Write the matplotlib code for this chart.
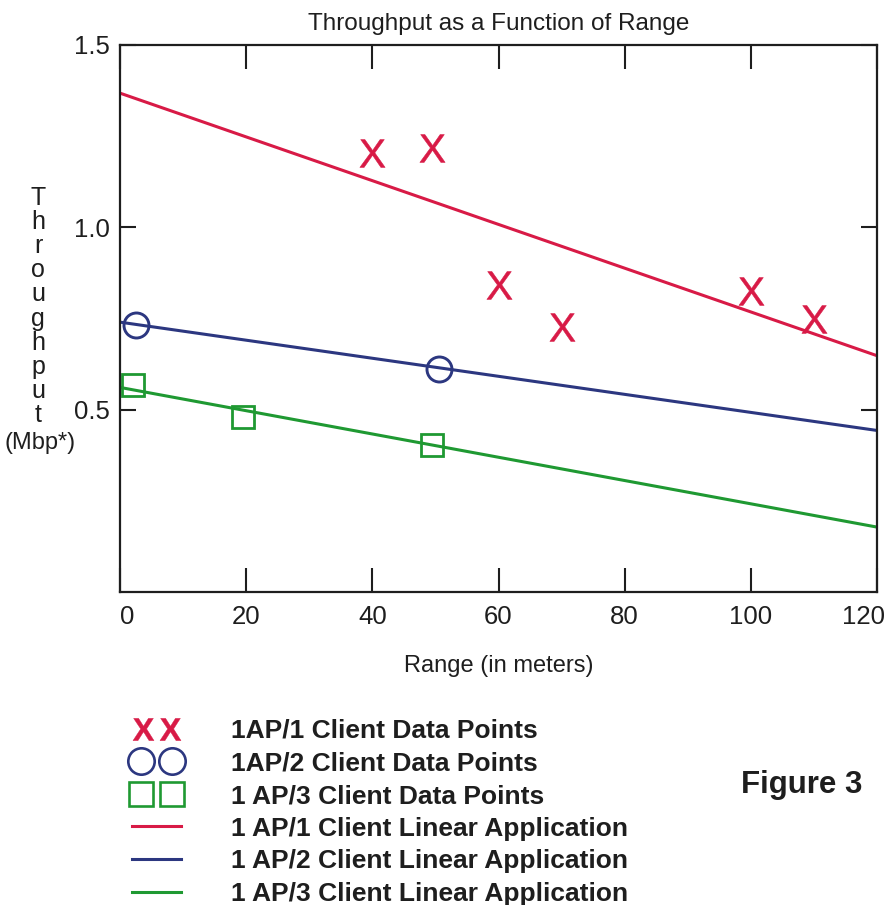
import matplotlib

matplotlib.use("Agg")
import matplotlib.pyplot as plt
import matplotlib.transforms as mtransforms
from matplotlib.lines import Line2D
from matplotlib.legend_handler import HandlerLine2D

plt.rcParams['font.family'] = ['Liberation Sans', 'DejaVu Sans']
plt.rcParams['mathtext.fontset'] = 'custom'
plt.rcParams['mathtext.rm'] = 'Liberation Sans'
plt.rcParams['mathtext.bf'] = 'Liberation Sans:bold'

# data
x_one = [40, 49.5, 60, 70, 100, 110]
y_one = [1.205, 1.217, 0.842, 0.726, 0.826, 0.749]
x_two = [2.5, 50.5]
y_two = [0.732, 0.612]
x_three = [2, 19.5, 49.5]
y_three = [0.568, 0.481, 0.404]

fit_x = [0, 120]
fit_one = [1.368, 0.648]
fit_two = [0.740, 0.443]
fit_three = [0.561, 0.178]

x_ticks = [0, 20, 40, 60, 80, 100, 120]
y_ticks = [0.5, 1.0, 1.5]
y_tick_labels = ["0.5", "1.0", "1.5"]

labels = [
    "1AP/1 Client Data Points",
    "1AP/2 Client Data Points",
    "1 AP/3 Client Data Points",
    "1 AP/1 Client Linear Application",
    "1 AP/2 Client Linear Application",
    "1 AP/3 Client Linear Application",
]

red = "#d81a46"
blue = "#2c3780"
green = "#1f9932"
ink = "#1e1e1e"

fig = plt.figure(figsize=(8.85, 9.05), dpi=100)
ax = fig.add_axes([120 / 885, 1 - 592 / 905, 757 / 885, 547 / 905])

# fitted lines
ax.plot(fit_x, fit_one, color=red, lw=2.2)
ax.plot(fit_x, fit_two, color=blue, lw=2.2)
ax.plot(fit_x, fit_three, color=green, lw=2.2)

# data points
ax.plot(x_one, y_one, ls="none", marker=r"$\mathrm{X}$", ms=20, color=red, mew=0.4)
ax.plot(x_two, y_two, ls="none", marker="o", ms=18, mfc="none", mec=blue, mew=2.1)
ax.plot(x_three, y_three, ls="none", marker="s", ms=16.5, mfc="none", mec=green, mew=2.0)

ax.set_xlim(0, 120)
ax.set_ylim(0, 1.5)
ax.set_xticks(x_ticks)
ax.set_yticks(y_ticks)
ax.set_yticklabels(y_tick_labels)
ax.tick_params(axis="x", direction="in", length=17, width=1.5, top=True,
               labelsize=18.5, pad=9, colors=ink)
ax.tick_params(axis="y", direction="in", length=11.5, width=1.5, right=True,
               labelsize=18.5, pad=7, colors=ink)
for sp in ax.spines.values():
    sp.set_linewidth(1.6)
    sp.set_color(ink)

# nudge the end labels like the scan
xl = ax.get_xticklabels()
xl[0].set_transform(xl[0].get_transform() + mtransforms.ScaledTranslation(0.07, 0, fig.dpi_scale_trans))
xl[-1].set_transform(xl[-1].get_transform() + mtransforms.ScaledTranslation(-0.14, 0, fig.dpi_scale_trans))

ax.set_title("Throughput as a Function of Range", fontsize=17.5, color=ink, pad=11)
ax.set_xlabel("Range (in meters)", fontsize=17, color=ink, labelpad=19)

# stacked y label
for i, ch in enumerate("Throughput"):
    fig.text(38 / 885, 1 - (198 + 24.1 * i) / 905, ch, ha="center", va="center",
             fontsize=18, color=ink)
fig.text(40 / 885, 1 - 443 / 905, "(Mbp*)", ha="center", va="center",
         fontsize=17, color=ink)

# legend
handles = [
    Line2D([], [], ls="none", marker=r"$\mathbf{X}$", ms=16, color=red, mew=0.3),
    Line2D([], [], ls="none", marker="o", ms=19, mfc="none", mec=blue, mew=1.9),
    Line2D([], [], ls="none", marker="s", ms=17, mfc="none", mec=green, mew=1.9),
    Line2D([], [], color=red, lw=2.2),
    Line2D([], [], color=blue, lw=2.2),
    Line2D([], [], color=green, lw=2.2),
]
hmap = {h: HandlerLine2D(marker_pad=0.64, numpoints=2) for h in handles[1:3]}
hmap[handles[0]] = HandlerLine2D(marker_pad=0.72, numpoints=2)
fig.legend(handles, labels, handler_map=hmap, loc="upper left",
           bbox_to_anchor=(124 / 885, 1 - 719 / 905), frameon=False,
           prop={"weight": "bold", "size": 19}, handlelength=2.45,
           handletextpad=1.6, labelspacing=0.325, borderpad=0, borderaxespad=0,
           numpoints=2)
for t in fig.legends[0].get_texts():
    t.set_color(ink)

fig.text(802 / 885, 1 - 785 / 905, "Figure 3", ha="center", va="center",
         fontsize=22.5, weight="bold", color=ink)

fig.savefig("out.png", dpi=100)
